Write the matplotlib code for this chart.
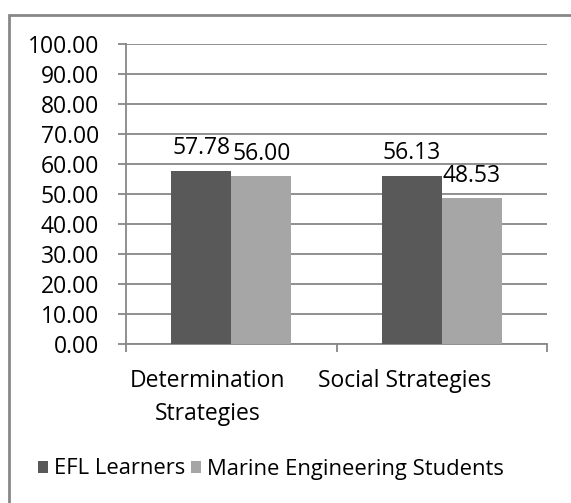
import matplotlib
matplotlib.use("Agg")
import matplotlib.pyplot as plt
from matplotlib.patches import Rectangle, Patch
from matplotlib.transforms import ScaledTranslation
import numpy as np

categories = ["Determination\nStrategies", "Social Strategies"]
series_names = ["EFL Learners", "Marine Engineering Students"]
efl_values = [57.78, 56.13]
marine_values = [56.00, 48.53]
colors = ["#595959", "#A6A6A6"]

plt.rcParams["font.family"] = ["Open Sans", "DejaVu Sans"]
FS = 16.5

W, H = 571, 503
fig = plt.figure(figsize=(W / 100, H / 100), dpi=100)
ax = fig.add_axes([126 / W, 1 - 344 / H, (547 - 126) / W, (344 - 44) / H])

x = np.arange(len(categories)) + 0.5
bw = 0.2857
b1 = ax.bar(x - bw / 2, efl_values, bw, color=colors[0], zorder=3)
b2 = ax.bar(x + bw / 2, marine_values, bw, color=colors[1], zorder=3)

for bars, vals in ((b1, efl_values), (b2, marine_values)):
    for rect, v in zip(bars, vals):
        ax.annotate(f"{v:.2f}", (rect.get_x() + rect.get_width() / 2, v),
                    xytext=(0, 16), textcoords="offset points",
                    ha="center", va="center", fontsize=FS, color="black")

ax.set_xlim(0, len(categories))
ax.set_ylim(0, 100)
ax.set_yticks(np.arange(0, 101, 10))
ax.set_yticklabels([f"{v:.2f}" for v in np.arange(0, 101, 10)], fontsize=FS)
ax.yaxis.grid(True, color="#878787", linewidth=1.3, zorder=0)
ax.set_axisbelow(True)

ax.set_xticks(np.arange(0, len(categories) + 1))
ax.set_xticklabels([])
ax.set_xticks(x, minor=True)
ax.set_xticklabels(categories, minor=True, fontsize=FS, linespacing=1.5)
ax.tick_params(axis="x", which="minor", length=0, pad=18)
ax.tick_params(axis="x", which="major", length=6, width=1.3, color="#878787", direction="out")
ax.tick_params(axis="y", length=6, width=1.3, color="#878787", direction="out", pad=13.5)

shifts = [-24, -37]
for lab, s in zip(ax.xaxis.get_minorticklabels(), shifts):
    lab.set_transform(lab.get_transform() + ScaledTranslation(s / 100, 0, fig.dpi_scale_trans))

for side in ("top", "right"):
    ax.spines[side].set_visible(False)
for side in ("left", "bottom"):
    ax.spines[side].set_color("#878787")
    ax.spines[side].set_linewidth(1.3)

handles = [Patch(facecolor=c, edgecolor="none") for c in colors]
fig.legend(handles, series_names, loc="center", bbox_to_anchor=(271 / W, 1 - 469 / H),
           ncol=2, frameon=False, fontsize=15.8, handlelength=0.45, handleheight=0.45,
           handletextpad=0.25, columnspacing=0.3, borderpad=0)

fig.patches.append(Rectangle((9 / W, -0.1), 1.2, 1 - 15 / H + 0.1, transform=fig.transFigure,
                             fill=False, edgecolor="#878787", linewidth=2))

fig.savefig("out.png", dpi=100)
